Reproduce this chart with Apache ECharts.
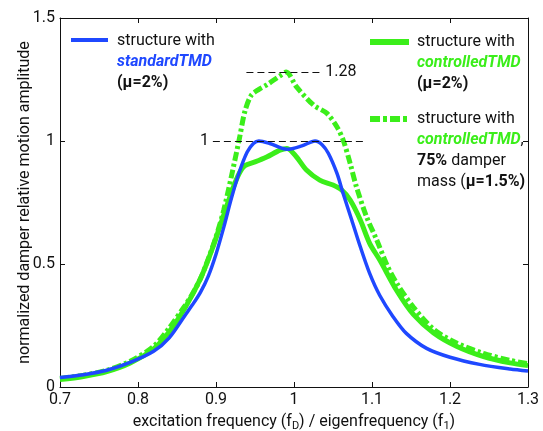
<!DOCTYPE html>
<html>
<head>
<meta charset="utf-8">
<script src="https://cdn.jsdelivr.net/npm/echarts@6/dist/echarts.min.js"></script>
<style>
  html, body { margin: 0; padding: 0; background: #fff; }
  #chart { width: 543px; height: 431px; }
</style>
</head>
<body>
<div id="chart"></div>
<script>
// Excitation frequency ratio f_D / f_1 and damper amplitude, per configuration
const freqStd = [0.70, 0.73, 0.76, 0.79, 0.82, 0.84, 0.86, 0.87, 0.88, 0.89, 0.90, 0.91, 0.92, 0.93, 0.94, 0.948, 0.955, 0.969, 0.991, 1.010, 1.027, 1.036, 1.044, 1.055, 1.063, 1.074, 1.085, 1.097, 1.110, 1.127, 1.144, 1.170, 1.200, 1.238, 1.277, 1.300];
const ampStd  = [0.039, 0.050, 0.068, 0.100, 0.145, 0.200, 0.290, 0.335, 0.385, 0.450, 0.540, 0.650, 0.770, 0.875, 0.955, 0.990, 1.000, 0.990, 0.966, 0.980, 1.000, 0.985, 0.950, 0.869, 0.787, 0.679, 0.570, 0.462, 0.372, 0.286, 0.218, 0.157, 0.121, 0.092, 0.073, 0.065];

const freqCtrl = [0.70, 0.73, 0.76, 0.79, 0.82, 0.84, 0.86, 0.88, 0.895, 0.910, 0.922, 0.930, 0.937, 0.950, 0.965, 0.982, 0.991, 1.003, 1.016, 1.033, 1.050, 1.061, 1.072, 1.085, 1.097, 1.110, 1.132, 1.153, 1.179, 1.209, 1.243, 1.277, 1.300];
const ampCtrl  = [0.030, 0.043, 0.063, 0.098, 0.155, 0.225, 0.320, 0.440, 0.560, 0.700, 0.810, 0.870, 0.900, 0.915, 0.935, 0.963, 0.970, 0.936, 0.882, 0.841, 0.821, 0.801, 0.760, 0.679, 0.584, 0.516, 0.390, 0.295, 0.220, 0.165, 0.124, 0.098, 0.087];

const freqCtrl75 = [0.70, 0.73, 0.76, 0.79, 0.82, 0.84, 0.86, 0.87, 0.88, 0.89, 0.90, 0.91, 0.92, 0.93, 0.937, 0.945, 0.955, 0.965, 0.982, 0.990, 1.003, 1.025, 1.042, 1.055, 1.063, 1.072, 1.080, 1.093, 1.106, 1.120, 1.132, 1.153, 1.179, 1.209, 1.243, 1.277, 1.300];
const ampCtrl75  = [0.035, 0.048, 0.068, 0.105, 0.165, 0.240, 0.330, 0.380, 0.440, 0.520, 0.610, 0.720, 0.860, 1.010, 1.120, 1.185, 1.210, 1.228, 1.265, 1.280, 1.221, 1.146, 1.113, 1.058, 1.004, 0.909, 0.814, 0.692, 0.598, 0.490, 0.420, 0.325, 0.235, 0.178, 0.137, 0.108, 0.095];

// Axis ticks
const xTicks = [0.7, 0.8, 0.9, 1.0, 1.1, 1.2, 1.3];
const yTicks = [0, 0.5, 1, 1.5];

// Dashed reference levels: value, start and end frequency, label side
const refLevels = [1, 1.28];
const refStart  = [0.896, 0.939];
const refEnd    = [1.089, 1.035];
const refSide   = ['start', 'end'];

const BLUE = '#1f48ff';
const GREEN = '#3bee1a';
const FONT = 'Roboto, "DejaVu Sans", sans-serif';

const pairs = (xs, ys) => xs.map((x, i) => [x, ys[i]]);
const fmt = v => String(+v.toFixed(2));

const chart = echarts.init(document.getElementById('chart'), null, { renderer: 'canvas' });

const frameLine = { show: true, onZero: false, lineStyle: { color: '#111', width: 1 } };
const tick = { show: true, inside: true, length: 5, lineStyle: { color: '#111', width: 1 } };

const option = {
  backgroundColor: '#fff',
  animation: false,
  textStyle: { fontFamily: FONT },
  grid: { left: 60, right: 15, top: 18, bottom: 44, containLabel: false, outerBoundsMode: 'none' },
  xAxis: [
    {
      type: 'value', position: 'bottom',
      min: xTicks[0], max: xTicks[xTicks.length - 1], interval: 0.1,
      axisLine: frameLine, axisTick: tick, splitLine: { show: false },
      axisLabel: { color: '#111', fontSize: 16, margin: 5, formatter: fmt, fontFamily: FONT },
      name: 'excitation frequency (f{s|D}) / eigenfrequency (f{s|1})',
      nameLocation: 'middle', nameGap: 25,
      nameTextStyle: {
        color: '#111', fontSize: 16, fontFamily: FONT,
        rich: { s: { fontSize: 11, verticalAlign: 'bottom', padding: [9, 0, 0, 0], color: '#111', fontFamily: FONT } }
      }
    },
    {
      type: 'value', position: 'top',
      min: xTicks[0], max: xTicks[xTicks.length - 1], interval: 0.1,
      axisLine: frameLine, axisTick: tick, axisLabel: { show: false }, splitLine: { show: false }
    }
  ],
  yAxis: [
    {
      type: 'value', position: 'left',
      min: yTicks[0], max: yTicks[yTicks.length - 1], interval: 0.5,
      axisLine: frameLine, axisTick: tick, splitLine: { show: false },
      axisLabel: { color: '#111', fontSize: 16, margin: 5, formatter: fmt, fontFamily: FONT },
      name: 'normalized damper relative motion amplitude',
      nameLocation: 'middle', nameGap: 27, nameMoveOverlap: false,
      nameTextStyle: { color: '#111', fontSize: 16, fontFamily: FONT }
    },
    {
      type: 'value', position: 'right',
      min: yTicks[0], max: yTicks[yTicks.length - 1], interval: 0.5,
      axisLine: frameLine, axisTick: tick, axisLabel: { show: false }, splitLine: { show: false }
    }
  ],
  series: [
    {
      name: 'controlledTMD (μ=2%)', type: 'line',
      data: pairs(freqCtrl, ampCtrl),
      smooth: 0.3, showSymbol: false, symbol: 'none',
      lineStyle: { color: GREEN, width: 5 }
    },
    {
      name: 'controlledTMD, 75% damper mass (μ=1.5%)', type: 'line',
      data: pairs(freqCtrl75, ampCtrl75),
      smooth: 0.3, showSymbol: false, symbol: 'none',
      lineStyle: { color: GREEN, width: 5, type: [9, 3, 3, 3], cap: 'butt' }
    },
    {
      name: 'standardTMD (μ=2%)', type: 'line',
      data: pairs(freqStd, ampStd),
      smooth: 0.3, showSymbol: false, symbol: 'none',
      lineStyle: { color: BLUE, width: 3.5 },
      markLine: {
        silent: true, symbol: ['none', 'none'], animation: false,
        data: refLevels.map((v, i) => [
          {
            coord: [refStart[i], v],
            lineStyle: { color: '#111', width: 1, type: [7, 4] },
            label: { show: true, position: refSide[i], formatter: String(v), color: '#111', fontSize: 16, fontFamily: FONT, distance: 4 }
          },
          { coord: [refEnd[i], v] }
        ])
      }
    }
  ],
  graphic: [
    // standard TMD key
    { type: 'line', shape: { x1: 71, y1: 40, x2: 108, y2: 40 }, style: { stroke: BLUE, lineWidth: 4 } },
    {
      type: 'text', x: 117, y: 30,
      style: {
        text: 'structure with\n{bi|standardTMD}\n{b|(μ=2%)}',
        fontSize: 16, fontFamily: FONT, fill: '#111', lineHeight: 21, verticalAlign: 'top',
        rich: {
          bi: { fontSize: 16, fontFamily: FONT, fontWeight: 'bold', fontStyle: 'italic', fill: BLUE, lineHeight: 21 },
          b: { fontSize: 16, fontFamily: FONT, fontWeight: 'bold', fill: '#111', lineHeight: 21 }
        }
      }
    },
    // controlled TMD key
    { type: 'line', shape: { x1: 370, y1: 42, x2: 409, y2: 42 }, style: { stroke: GREEN, lineWidth: 6 } },
    {
      type: 'text', x: 417, y: 31,
      style: {
        text: 'structure with\n{gi|controlledTMD}\n{b|(μ=2%)}',
        fontSize: 16, fontFamily: FONT, fill: '#111', lineHeight: 21, verticalAlign: 'top',
        rich: {
          gi: { fontSize: 16, fontFamily: FONT, fontWeight: 'bold', fontStyle: 'italic', fill: GREEN, lineHeight: 21 },
          b: { fontSize: 16, fontFamily: FONT, fontWeight: 'bold', fill: '#111', lineHeight: 21 }
        }
      }
    },
    // controlled TMD with reduced mass key
    { type: 'line', shape: { x1: 370, y1: 119, x2: 409, y2: 119 }, style: { stroke: GREEN, lineWidth: 6, lineDash: [10, 3, 4, 3] } },
    {
      type: 'text', x: 417, y: 108.5,
      style: {
        text: 'structure with\n{gi|controlledTMD},\n{b|75%} damper\nmass ({b|μ=1.5%)}',
        fontSize: 16, fontFamily: FONT, fill: '#111', lineHeight: 21, verticalAlign: 'top',
        rich: {
          gi: { fontSize: 16, fontFamily: FONT, fontWeight: 'bold', fontStyle: 'italic', fill: GREEN, lineHeight: 21 },
          b: { fontSize: 16, fontFamily: FONT, fontWeight: 'bold', fill: '#111', lineHeight: 21 }
        }
      }
    }
  ]
};

chart.setOption(option);
</script>
</body>
</html>
